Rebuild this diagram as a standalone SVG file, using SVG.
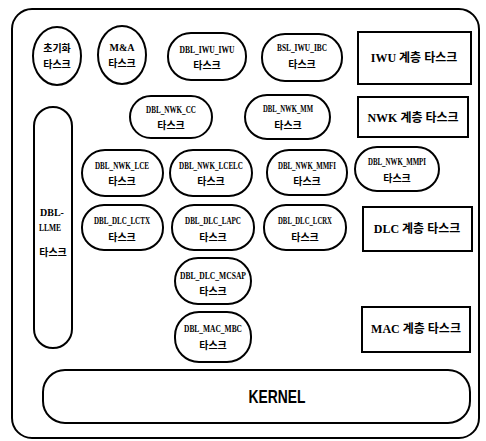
<svg xmlns="http://www.w3.org/2000/svg" width="486" height="441" viewBox="0 0 486 441">
<style>
.s{fill:#fff;stroke:#000;stroke-width:2}
.n{font-family:"Liberation Serif",serif;font-weight:bold;font-size:10px;text-anchor:middle;fill:#000}
.k{font-family:"Liberation Sans","Noto Sans CJK KR",sans-serif;font-weight:bold;font-size:10px;text-anchor:middle;fill:#000}
.l{font-family:"Liberation Serif","Noto Sans CJK KR",serif;font-weight:bold;font-size:12px;text-anchor:middle;fill:#000}
</style>
<rect width="486" height="441" fill="#fff"/>
<g id="frame"><rect class="s" x="12" y="9" width="467" height="429" rx="20"/></g>
<g id="connectors"></g>
<g id="init"><ellipse class="s" cx="57" cy="56" rx="24" ry="29"/><text class="k" x="57" y="52">초기화</text><text class="k" x="57" y="68">타스크</text></g>
<g id="ma"><ellipse class="s" cx="122" cy="55" rx="24" ry="29"/><text class="n" x="122" y="51">M&amp;A</text><text class="k" x="122" y="67">타스크</text></g>
<g id="iwu_iwu"><rect class="s" x="168" y="33" width="78" height="47" rx="23"/><text class="n" x="207" y="53" textLength="55" lengthAdjust="spacingAndGlyphs">DBL_IWU_IWU</text><text class="k" x="207" y="69">타스크</text></g>
<g id="iwu_ibc"><rect class="s" x="262" y="34" width="80" height="47" rx="23"/><text class="n" x="302" y="51" textLength="50" lengthAdjust="spacingAndGlyphs">BSL_IWU_IBC</text><text class="k" x="302" y="68">타스크</text></g>
<g id="iwu_layer"><rect class="s" x="358" y="32" width="113" height="52"/><text class="l" x="414" y="62">IWU 계층 타스크</text></g>
<g id="nwk_cc"><rect class="s" x="130" y="96" width="82" height="42" rx="21"/><text class="n" x="171" y="113" textLength="50" lengthAdjust="spacingAndGlyphs">DBL_NWK_CC</text><text class="k" x="171" y="129">타스크</text></g>
<g id="nwk_mm"><rect class="s" x="245" y="95" width="85" height="44" rx="22"/><text class="n" x="288" y="112" textLength="50" lengthAdjust="spacingAndGlyphs">DBL_NWK_MM</text><text class="k" x="288" y="129">타스크</text></g>
<g id="nwk_layer"><rect class="s" x="358" y="97" width="110" height="40"/><text class="l" x="413" y="122">NWK 계층 타스크</text></g>
<g id="llme"><rect class="s" x="34" y="107" width="38" height="241" rx="19"/><text class="n" x="40" y="216" style="text-anchor:start">DBL-</text><text class="n" x="39" y="231" style="text-anchor:start" textLength="22" lengthAdjust="spacingAndGlyphs">LLME</text><text class="k" x="53" y="256">타스크</text></g>
<g id="nwk_lce"><rect class="s" x="82" y="150" width="81" height="46" rx="23"/><text class="n" x="122" y="169" textLength="54" lengthAdjust="spacingAndGlyphs">DBL_NWK_LCE</text><text class="k" x="122" y="185">타스크</text></g>
<g id="nwk_lcelc"><rect class="s" x="170" y="150" width="82" height="46" rx="23"/><text class="n" x="211" y="169" textLength="64" lengthAdjust="spacingAndGlyphs">DBL_NWK_LCELC</text><text class="k" x="211" y="185">타스크</text></g>
<g id="nwk_mmfi"><rect class="s" x="267" y="150" width="80" height="45" rx="22"/><text class="n" x="307" y="169" textLength="58" lengthAdjust="spacingAndGlyphs">DBL_NWK_MMFI</text><text class="k" x="307" y="185">타스크</text></g>
<g id="nwk_mmpi"><rect class="s" x="355" y="147" width="84" height="44" rx="22"/><text class="n" x="397" y="165" textLength="58" lengthAdjust="spacingAndGlyphs">DBL_NWK_MMPI</text><text class="k" x="397" y="182">타스크</text></g>
<g id="dlc_lctx"><rect class="s" x="82" y="205" width="81" height="45" rx="22"/><text class="n" x="122" y="224" textLength="56" lengthAdjust="spacingAndGlyphs">DBL_DLC_LCTX</text><text class="k" x="122" y="241">타스크</text></g>
<g id="dlc_lapc"><rect class="s" x="172" y="205" width="82" height="45" rx="22"/><text class="n" x="213" y="224" textLength="56" lengthAdjust="spacingAndGlyphs">DBL_DLC_LAPC</text><text class="k" x="213" y="241">타스크</text></g>
<g id="dlc_lcrx"><rect class="s" x="264" y="205" width="82" height="45" rx="22"/><text class="n" x="305" y="224" textLength="54" lengthAdjust="spacingAndGlyphs">DBL_DLC_LCRX</text><text class="k" x="305" y="241">타스크</text></g>
<g id="dlc_layer"><rect class="s" x="363" y="207" width="109" height="44"/><text class="l" x="417" y="233">DLC 계층 타스크</text></g>
<g id="dlc_mcsap"><rect class="s" x="175" y="258" width="76" height="46" rx="23"/><text class="n" x="213" y="279" textLength="66" lengthAdjust="spacingAndGlyphs">DBL_DLC_MCSAP</text><text class="k" x="213" y="295">타스크</text></g>
<g id="mac_mbc"><rect class="s" x="175" y="312" width="76" height="50" rx="24"/><text class="n" x="213" y="332" textLength="58" lengthAdjust="spacingAndGlyphs">DBL_MAC_MBC</text><text class="k" x="213" y="349">타스크</text></g>
<g id="mac_layer"><rect class="s" x="362" y="307" width="108" height="45"/><text class="l" x="416" y="333">MAC 계층 타스크</text></g>
<g id="kernel"><rect class="s" x="43" y="370" width="427" height="53" rx="22"/><text x="277" y="403" text-anchor="middle" font-family="Liberation Sans,sans-serif" font-weight="bold" font-size="18" textLength="57" lengthAdjust="spacingAndGlyphs">KERNEL</text></g>
</svg>
